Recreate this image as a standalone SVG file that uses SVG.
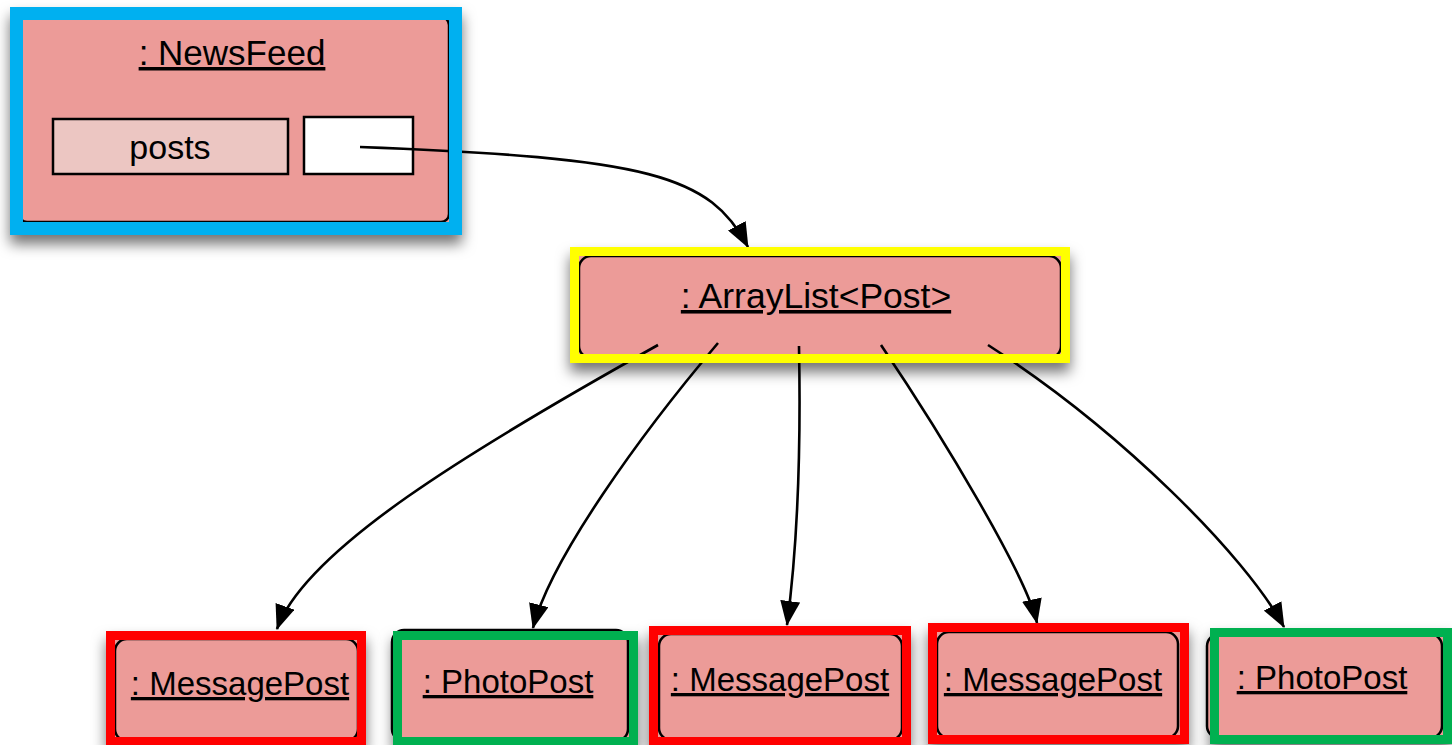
<svg xmlns="http://www.w3.org/2000/svg" width="1452" height="745" viewBox="0 0 1452 745">
<defs>
<filter id="sh" x="-20%" y="-30%" width="140%" height="180%">
<feDropShadow dx="0" dy="9" stdDeviation="7" flood-color="#000" flood-opacity="0.55"/>
</filter>
<marker id="ah" viewBox="0 0 25 20" refX="24" refY="10" markerWidth="25" markerHeight="20" markerUnits="userSpaceOnUse" orient="auto">
<path d="M0,0 L25,10 L0,20 z" fill="#000"/>
</marker>
</defs>
<style>
.back{fill:#EC9B98;filter:url(#sh)}
.box{fill:#EC9B98;stroke:#000;stroke-width:2.5}
.lbl{font-family:"Liberation Sans",Arial,Helvetica,sans-serif;fill:#000;text-anchor:middle;text-decoration:underline}
.plain{font-family:"Liberation Sans",Arial,Helvetica,sans-serif;fill:#000;text-anchor:middle}
.con{fill:none;stroke:#000;stroke-width:2.6;marker-end:url(#ah)}
.fr{fill:none}
.blue{stroke:#00B0F0;stroke-width:13}
.yellow{stroke:#FFFF00;stroke-width:9}
.red{stroke:#FF0000;stroke-width:9}
.green{stroke:#00B050;stroke-width:9}
</style>
<rect width="1452" height="745" fill="#fff"/>

<g id="newsfeed">
<rect class="back" x="10" y="7" width="452" height="228"/>
<rect class="box" x="19" y="17" width="430" height="205" rx="8"/>
<text class="lbl" x="232" y="65" font-size="35">: NewsFeed</text>
<rect x="53" y="119" width="235" height="55" fill="#ECC6C2" stroke="#000" stroke-width="2.5"/>
<text class="plain" x="170" y="159" font-size="34">posts</text>
<rect x="304" y="117" width="109" height="57" fill="#fff" stroke="#000" stroke-width="2.5"/>
</g>

<g id="arraylist">
<rect class="back" x="570" y="247" width="500" height="116"/>
<rect class="box" x="579" y="256" width="482" height="102" rx="12"/>
<text class="lbl" x="816" y="308" font-size="35.5">: ArrayList&lt;Post&gt;</text>
</g>

<g id="messagepost1">
<rect class="back" x="106" y="631" width="260" height="114"/>
<rect class="box" x="115" y="639" width="243" height="102" rx="12"/>
<text class="lbl" x="240" y="695" font-size="33">: MessagePost</text>
</g>

<g id="photopost1">
<rect class="back" x="393" y="631" width="245" height="114"/>
<rect class="box" x="392" y="630" width="236" height="111" rx="12"/>
<text class="lbl" x="508" y="693" font-size="33">: PhotoPost</text>
</g>

<g id="messagepost2">
<rect class="back" x="649" y="626" width="262" height="119"/>
<rect class="box" x="659" y="634" width="243" height="106" rx="12"/>
<text class="lbl" x="780" y="691" font-size="33">: MessagePost</text>
</g>

<g id="messagepost3">
<rect class="back" x="928" y="623" width="261" height="120"/>
<rect class="box" x="937" y="632" width="241" height="106" rx="12"/>
<text class="lbl" x="1053" y="691" font-size="33">: MessagePost</text>
</g>

<g id="photopost2">
<rect class="back" x="1210" y="628" width="242" height="116"/>
<rect class="box" x="1207" y="634" width="235" height="104" rx="12"/>
<text class="lbl" x="1322" y="689" font-size="33">: PhotoPost</text>
</g>

<g id="connectors">
<path class="con" d="M360,147 C650,158 710,175 748,247"/>
<path class="con" d="M658,345 C470,450 305,550 277,629"/>
<path class="con" d="M718,343 C640,435 550,560 533,628"/>
<path class="con" d="M799,346 C801,450 797,550 787,625"/>
<path class="con" d="M881,345 C945,440 1027,577 1037,623"/>
<path class="con" d="M988,345 C1120,430 1245,555 1284,627"/>
</g>

<g id="highlights">
<rect class="fr blue" x="16.5" y="13.5" width="439" height="215"/>
<rect class="fr yellow" x="574.5" y="251.5" width="491" height="107"/>
<rect class="fr red" x="110.5" y="635.5" width="251" height="106"/>
<rect class="fr green" x="397.5" y="635.5" width="236" height="106"/>
<rect class="fr red" x="653.5" y="630.5" width="253" height="111"/>
<rect class="fr red" x="932.5" y="627.5" width="252" height="112"/>
<rect class="fr green" x="1214.5" y="632.5" width="233" height="107"/>
</g>
</svg>
